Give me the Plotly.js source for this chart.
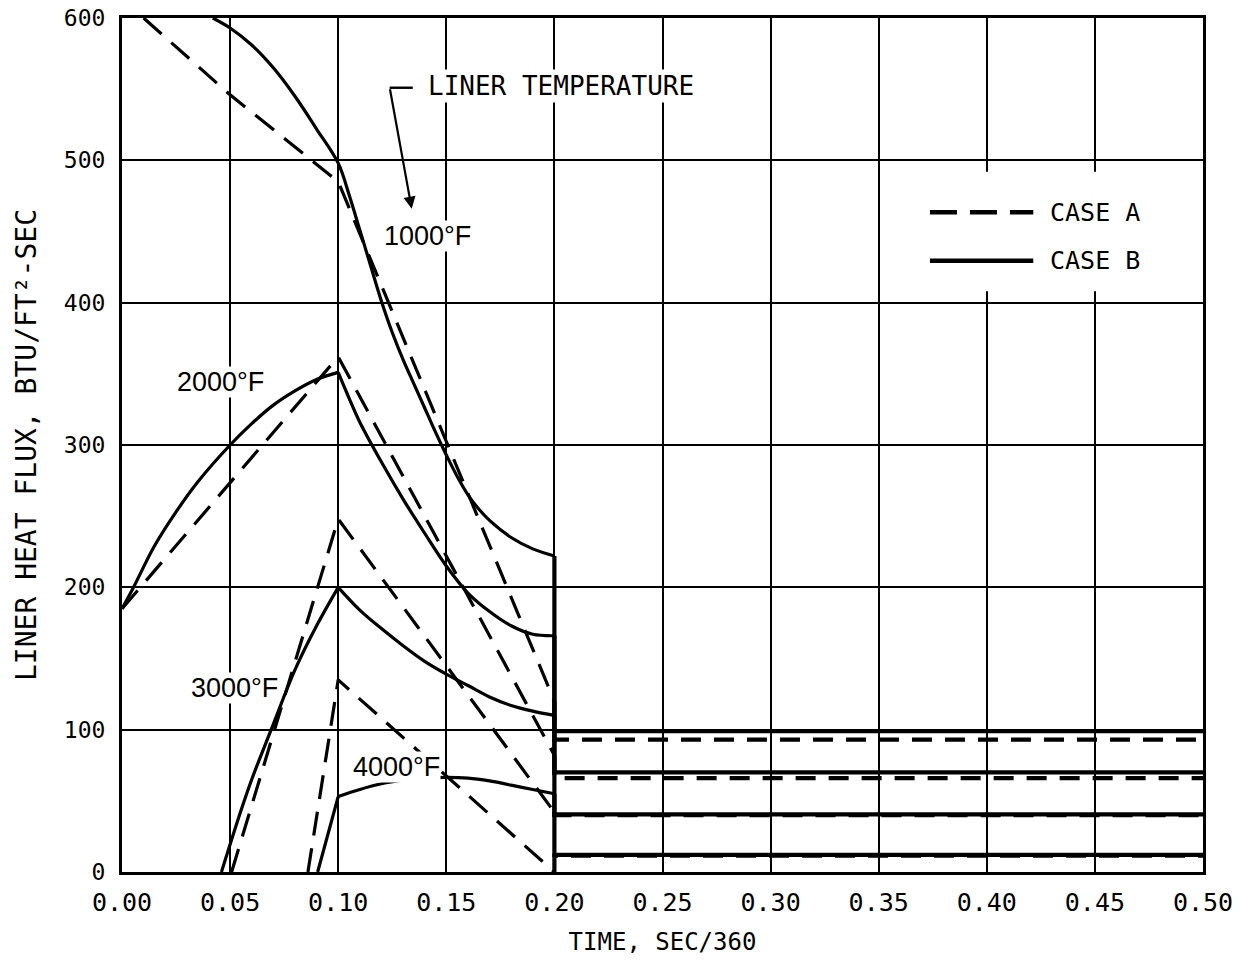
<!DOCTYPE html>
<html>
<head>
<meta charset="utf-8">
<script src="https://cdn.plot.ly/plotly-3.0.1.min.js"></script>
<style>
  html, body { margin: 0; padding: 0; background: #ffffff; }
  #chart { width: 1249px; height: 979px; }
</style>
</head>
<body>
<div id="chart"></div>
<script>
// ---- Data (time in SEC/360, flux in BTU/FT^2-SEC) ----
// CASE A (dashed): straight-line segments up to t = 0.20
const t1000A = [0.010, 0.050, 0.100, 0.200];
const q1000A = [600, 546, 485, 120];
const t2000A = [0.000, 0.100, 0.200];
const q2000A = [185, 362, 82];
const t3000A = [0.0507, 0.100, 0.200];
const q3000A = [0, 248, 42];
const t4000A = [0.086, 0.100, 0.200];
const q4000A = [0, 135, 0];

// CASE B (solid): curves up to t = 0.20
const t1000B = [0.042, 0.050, 0.060, 0.070, 0.080, 0.090, 0.100, 0.105, 0.110, 0.115, 0.120, 0.125, 0.130, 0.135, 0.140, 0.145, 0.150, 0.155, 0.160, 0.165, 0.170, 0.180, 0.190, 0.200];
const q1000B = [600, 593, 581, 565, 545, 522, 498, 476, 451, 426, 401, 379, 360, 343, 326, 309, 293, 278, 265, 255, 247, 235, 227, 222];

const t2000B_rise = [0.000, 0.005, 0.015, 0.025, 0.035, 0.050, 0.060, 0.070, 0.080, 0.090, 0.100];
const q2000B_rise = [185, 199, 229, 253, 274, 300, 315, 328, 338, 346, 351];
const t2000B_fall = [0.100, 0.105, 0.110, 0.120, 0.130, 0.140, 0.150, 0.160, 0.170, 0.180, 0.190, 0.200];
const q2000B_fall = [351, 333, 316, 288, 262, 238, 215, 196, 183, 173, 167, 166];

const t3000B_rise = [0.046, 0.055, 0.060, 0.069, 0.080, 0.090, 0.100];
const q3000B_rise = [0, 43, 65, 100, 142, 173, 200];
const t3000B_fall = [0.100, 0.110, 0.120, 0.130, 0.140, 0.150, 0.160, 0.170, 0.180, 0.190, 0.200];
const q3000B_fall = [200, 184, 171, 159, 148, 139, 131, 123, 117, 113, 110];

const t4000B_rise = [0.0905, 0.100];
const q4000B_rise = [0, 53];
const t4000B_fall = [0.100, 0.110, 0.120, 0.130, 0.140, 0.150, 0.160, 0.170, 0.180, 0.190, 0.200];
const q4000B_fall = [53, 58, 62, 64.5, 66, 66.5, 66, 64, 61, 58, 55];

// Steady levels after t = 0.20 (1000, 2000, 3000, 4000 °F)
const tSteady = [0.200, 0.500];
const steadyA = [93, 66, 40, 11.5];
const steadyB = [99, 70, 40.5, 12];

const xTickVals = [0, 0.05, 0.10, 0.15, 0.20, 0.25, 0.30, 0.35, 0.40, 0.45, 0.50];
const xTickText = ["0.00", "0.05", "0.10", "0.15", "0.20", "0.25", "0.30", "0.35", "0.40", "0.45", "0.50"];
const yTickVals = [0, 100, 200, 300, 400, 500, 600];

const tempLabels = ["1000°F", "2000°F", "3000°F", "4000°F"];
const tempLabelX = [0.1415, 0.0455, 0.052, 0.127];
const tempLabelY = [447, 344, 129, 74];

const caseNames = ["CASE A", "CASE B"];

// ---- Traces ----
const DASH_CURVE = "24px,13px";
const DASH_STEADY = "20px,13px";
function seg(t, q, dashed, smooth, width, name) {
  const line = { color: "#000", width: width };
  if (dashed) line.dash = dashed;
  if (smooth) { line.shape = "spline"; line.smoothing = 1.0; }
  return { x: t, y: q, name: name, mode: "lines", type: "scatter",
           showlegend: false, hoverinfo: "skip", line: line };
}
function steady(lastT, lastQ, level, dashed, name) {
  return seg([lastT, tSteady[0], tSteady[1]], [lastQ, level, level], dashed, false, 4.2, name);
}
const last = a => a[a.length - 1];

const traces = [
  // CASE A
  seg(t1000A, q1000A, DASH_CURVE, false, 3.2, "1000°F " + caseNames[0]),
  seg(t2000A, q2000A, DASH_CURVE, false, 3.2, "2000°F " + caseNames[0]),
  seg(t3000A, q3000A, DASH_CURVE, false, 3.2, "3000°F " + caseNames[0]),
  seg(t4000A, q4000A, DASH_CURVE, false, 3.2, "4000°F " + caseNames[0]),
  steady(last(t1000A), last(q1000A), steadyA[0], DASH_STEADY, "1000°F " + caseNames[0]),
  steady(last(t2000A), last(q2000A), steadyA[1], DASH_STEADY, "2000°F " + caseNames[0]),
  steady(last(t3000A), last(q3000A), steadyA[2], DASH_STEADY, "3000°F " + caseNames[0]),
  steady(last(t4000A), last(q4000A), steadyA[3], DASH_STEADY, "4000°F " + caseNames[0]),
  // CASE B
  seg(t1000B, q1000B, null, true, 3.2, "1000°F " + caseNames[1]),
  seg(t2000B_rise, q2000B_rise, null, true, 3.2, "2000°F " + caseNames[1]),
  seg(t2000B_fall, q2000B_fall, null, true, 3.2, "2000°F " + caseNames[1]),
  seg(t3000B_rise, q3000B_rise, null, true, 3.2, "3000°F " + caseNames[1]),
  seg(t3000B_fall, q3000B_fall, null, true, 3.2, "3000°F " + caseNames[1]),
  seg(t4000B_rise, q4000B_rise, null, false, 3.2, "4000°F " + caseNames[1]),
  seg(t4000B_fall, q4000B_fall, null, true, 3.2, "4000°F " + caseNames[1]),
  steady(last(t1000B), last(q1000B), steadyB[0], null, "1000°F " + caseNames[1]),
  steady(last(t2000B_fall), last(q2000B_fall), steadyB[1], null, "2000°F " + caseNames[1]),
  steady(last(t3000B_fall), last(q3000B_fall), steadyB[2], null, "3000°F " + caseNames[1]),
  steady(last(t4000B_fall), last(q4000B_fall), steadyB[3], null, "4000°F " + caseNames[1])
];

const MONO = "DejaVu Sans Mono, monospace";
const SANS = "Liberation Sans, Arial, sans-serif";

const annotations = tempLabels.map((txt, i) => ({
  x: tempLabelX[i], y: tempLabelY[i], xref: "x", yref: "y",
  text: txt, showarrow: false, bgcolor: "#ffffff",
  font: { family: SANS, size: 27, color: "#000" }, borderpad: 0
}));

// "LINER TEMPERATURE" callout
annotations.push({
  x: 0.1405, y: 552, xref: "x", yref: "y", xanchor: "left",
  text: "LINER TEMPERATURE", showarrow: false, bgcolor: "#ffffff",
  font: { family: MONO, size: 26, color: "#000" }
});
annotations.push({
  x: 0.134, y: 466, xref: "x", yref: "y", text: "", showarrow: true,
  ax: -22, ay: -121, arrowhead: 2, arrowsize: 1.1, arrowwidth: 2.2, arrowcolor: "#000"
});

// Legend (drawn manually to match the long sample lines)
annotations.push({
  x: 0.4285, y: 463.5, xref: "x", yref: "y", xanchor: "left",
  text: caseNames[0], showarrow: false, font: { family: MONO, size: 25, color: "#000" }
});
annotations.push({
  x: 0.4285, y: 429.5, xref: "x", yref: "y", xanchor: "left",
  text: caseNames[1], showarrow: false, font: { family: MONO, size: 25, color: "#000" }
});

const shapes = [
  { type: "rect", xref: "x", yref: "y", x0: 0.368, x1: 0.497, y0: 408, y1: 492,
    fillcolor: "#ffffff", line: { width: 0 }, layer: "above" },
  { type: "line", xref: "x", yref: "y", x0: 0.3737, x1: 0.4215, y0: 463.5, y1: 463.5,
    line: { color: "#000", width: 4.5, dash: "27px,13px" }, layer: "above" },
  { type: "line", xref: "x", yref: "y", x0: 0.3737, x1: 0.4215, y0: 429.5, y1: 429.5,
    line: { color: "#000", width: 4.5 }, layer: "above" },
  // bracket of the callout
  { type: "line", xref: "x", yref: "y", x0: 0.1238, x1: 0.1345, y0: 551, y1: 551,
    line: { color: "#000", width: 2.4 }, layer: "above" }
];

const layout = {
  width: 1249, height: 979,
  margin: { l: 122, r: 46, t: 18, b: 107 },
  paper_bgcolor: "#ffffff", plot_bgcolor: "#ffffff",
  showlegend: false,
  xaxis: {
    range: [0, 0.5], tickmode: "array", tickvals: xTickVals, ticktext: xTickText,
    showgrid: true, gridcolor: "#000", gridwidth: 2,
    showline: true, linecolor: "#000", linewidth: 3, mirror: true,
    zeroline: false, ticks: "", ticklabelstandoff: 6,
    tickfont: { family: MONO, size: 25, color: "#000" },
    title: { text: "TIME, SEC/360", font: { family: MONO, size: 24, color: "#000" }, standoff: 18 }
  },
  yaxis: {
    range: [0, 600], tickmode: "array", tickvals: yTickVals,
    showgrid: true, gridcolor: "#000", gridwidth: 2,
    showline: true, linecolor: "#000", linewidth: 3, mirror: true,
    zeroline: false, ticks: "", ticklabelstandoff: 9,
    tickfont: { family: MONO, size: 23, color: "#000" },
    title: { text: "LINER HEAT FLUX, BTU/FT²-SEC", font: { family: MONO, size: 28, color: "#000" }, standoff: 20 }
  },
  annotations: annotations,
  shapes: shapes
};

Plotly.newPlot("chart", traces, layout, { displayModeBar: false, staticPlot: true });
</script>
</body>
</html>
